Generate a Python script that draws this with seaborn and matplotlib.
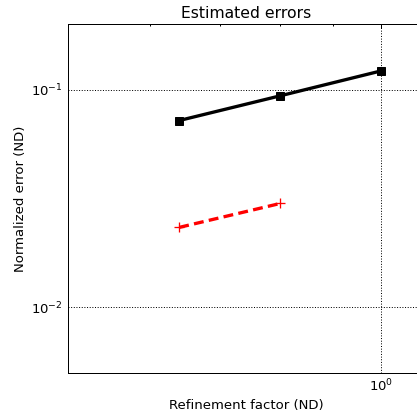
import numpy as np
import pandas as pd
import matplotlib
matplotlib.use("Agg")
import matplotlib.pyplot as plt
import seaborn as sns
from matplotlib.ticker import NullFormatter

# values
refine_a = [0.64, 0.8, 1.0]
error_a = [0.0721, 0.0936, 0.1218]
refine_b = [0.64, 0.8]
error_b = [0.0233, 0.0300]

sns.set_style("white")
plt.rcParams["font.family"] = ["DejaVu Sans"]
plt.rcParams["mathtext.fontset"] = "dejavusans"
plt.rcParams["text.color"] = "black"
plt.rcParams["axes.labelcolor"] = "black"
plt.rcParams["xtick.color"] = "black"
plt.rcParams["ytick.color"] = "black"

fig = plt.figure(figsize=(417 / 72, 414 / 72), dpi=72)
# axes run a little past the right edge, like the cropped original
ax = fig.add_axes([67.6 / 417, 41 / 414, 356.5 / 417, 349 / 414])

sns.lineplot(x=refine_a, y=error_a, ax=ax, color="black", lw=3.3,
             marker="s", markersize=8, markeredgecolor="black", markeredgewidth=1)
sns.lineplot(x=refine_b, y=error_b, ax=ax, color="red", lw=3.3,
             linestyle=(0, (3.0, 1.6)), marker="+", markersize=10,
             markeredgecolor="red", markeredgewidth=1.3)

ax.set_xscale("log")
ax.set_yscale("log")
ax.set_xlim(0.5, 1.1)
ax.set_ylim(0.005, 0.2)
ax.xaxis.set_minor_formatter(NullFormatter())
ax.yaxis.set_minor_formatter(NullFormatter())

ax.tick_params(which="both", direction="in", top=True, right=True,
               labelsize=13.3, width=1)
ax.tick_params(which="major", length=4.4, pad=5)
ax.tick_params(which="minor", length=2.2)
for s in ax.spines.values():
    s.set_color("black")
    s.set_linewidth(1)

ax.grid(True, which="major", color="black", linestyle=":", linewidth=1)

ax.set_title("Estimated errors", fontsize=15.6)
ax.set_xlabel("Refinement factor (ND)", fontsize=13.3)
ax.set_ylabel("Normalized error (ND)", fontsize=13.3)

fig.savefig("out.png", dpi=72)
